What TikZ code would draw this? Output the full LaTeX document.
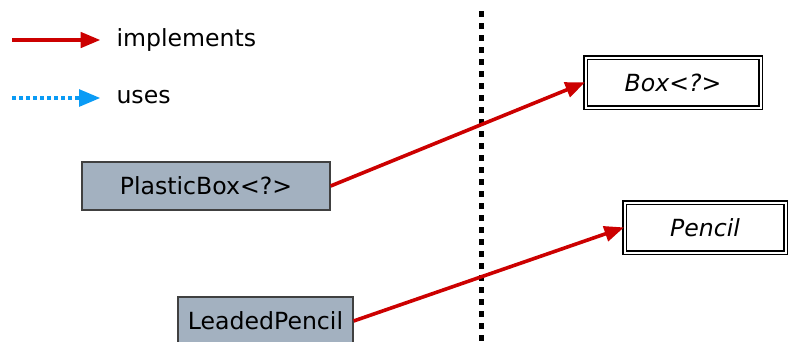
\documentclass[tikz,border=0pt]{standalone}
\usepackage{fontspec}
\setmainfont{DejaVu Sans}
\usetikzlibrary{arrows}

\definecolor{implred}{HTML}{CC0000}
\definecolor{usesblue}{HTML}{0A9BF5}
\definecolor{classfill}{HTML}{A3B1C0}

\tikzset{
  every node/.style={font=\fontsize{23.6bp}{28bp}\selectfont},
  implements/.style={draw=implred, line width=3.6bp, -triangle 45},
  uses/.style={draw=usesblue, line width=4bp, dash pattern=on 4bp off 3bp, -triangle 45},
  concrete/.style={draw=black!75, line width=1.2bp, fill=classfill, inner sep=0pt},
  interface/.style={draw, double, double distance=2bp, line width=1.6bp, fill=white,
    inner sep=0pt, font=\fontsize{23.6bp}{28bp}\selectfont\itshape},
}

\begin{document}
\begin{tikzpicture}[x=1bp,y=-1bp]
        \useasboundingbox (0,0) rectangle (789,341);
        \clip (0,0) rectangle (789,341);
        % legend
        \node[anchor=west] (implabel) at (113,40) {implements};
        \node[anchor=west] (useslabel) at (113,97) {uses};
        \coordinate (implstart) at (12,40);
        \coordinate (usesstart) at (12,98);
        \draw[implements] (implstart) -- ([xshift=-13bp]implabel.west |- implstart);
        \draw[uses] (usesstart) -- ([xshift=-13bp]useslabel.west |- usesstart);
        % dividing line
        \coordinate (divtop) at (481,11);
        \coordinate (divbot) at (481,341);
        \draw[line width=5bp, dash pattern=on 6bp off 6bp] (divtop) -- (divbot);
        % classes
        \node[concrete, minimum width=248bp, minimum height=48bp] (plasticbox) at (206,186) {PlasticBox<?>};
        \node[concrete, minimum width=175bp, minimum height=48bp] (leadedpencil) at (265.5,321) {LeadedPencil};
        \node[interface, minimum width=175bp, minimum height=50bp] (box) at (673,82.5) {Box<?>};
        \node[interface, minimum width=161bp, minimum height=50bp] (pencil) at (705,227.5) {Pencil};
        \draw[implements] (plasticbox.east) -- (box.west);
        \draw[implements] (leadedpencil.east) -- (pencil.west);
\end{tikzpicture}
\end{document}
